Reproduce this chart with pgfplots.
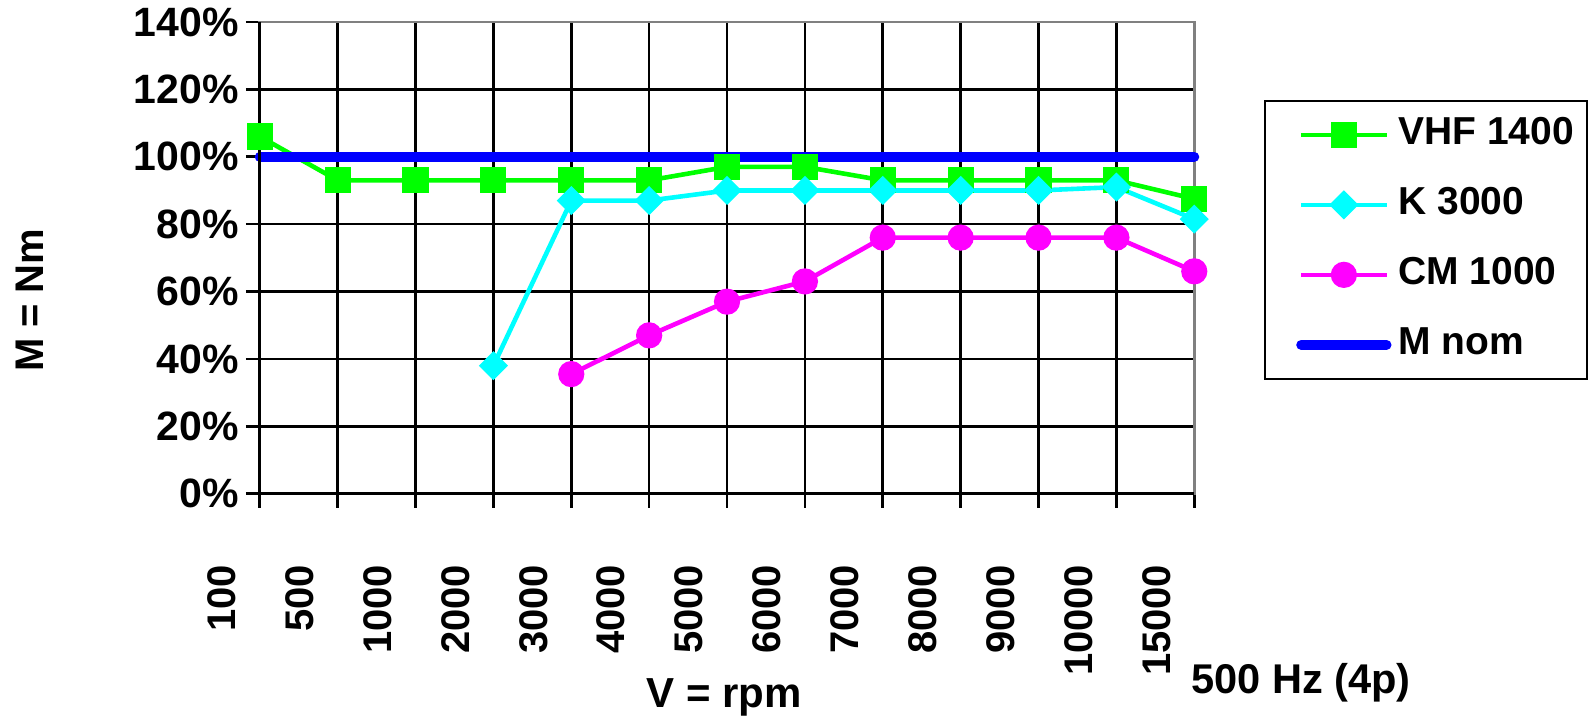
\documentclass[border=0pt]{standalone}
\usepackage{pgfplots}
\pgfplotsset{compat=1.18}
\usepackage{fontspec}
\setmainfont{Liberation Sans}

\definecolor{vhf}{RGB}{0,255,0}
\definecolor{kcol}{RGB}{0,255,255}
\definecolor{cmcol}{RGB}{255,0,255}
\definecolor{mnom}{RGB}{0,0,255}

\begin{document}
\begin{tikzpicture}
\begin{axis}[
  scale only axis,
  width=467.5pt, height=236pt,
  xmin=0, xmax=12, ymin=0, ymax=140,
  xtick={0,...,12},
  xticklabels={100,500,1000,2000,3000,4000,5000,6000,7000,8000,9000,10000,15000},
  ytick={0,20,...,140},
  yticklabel={\pgfmathprintnumber{\tick}\%},
  /pgf/number format/assume math mode=true,
  xtick pos=bottom, ytick pos=left,
  grid=major,
  grid style={black, line width=1.3pt},
  axis line style={gray, line width=1.3pt},
  tick style={black, line width=1.3pt},
  tick align=outside,
  major tick length=7pt,
  font=\fontsize{20}{24}\selectfont\bfseries,
  yticklabel style={font=\fontsize{20.5}{24}\selectfont\bfseries},
  xticklabel style={xshift=-19pt, yshift=-25pt, rotate=90, anchor=east},
  xlabel={V = rpm},
  ylabel={M = Nm},
  every axis x label/.style={at={(axis description cs:0.497,0)}, anchor=center, yshift=-102pt,
    font=\fontsize{21}{24}\selectfont\bfseries},
  every axis y label/.style={at={(axis description cs:0,0.41)}, anchor=center, xshift=-115pt, rotate=90},
  legend style={at={(axis description cs:1,1)}, anchor=north west, xshift=35pt, yshift=-39pt,
    draw=black, line width=1pt, inner xsep=4.5pt, inner ysep=8pt,
    nodes={inner ysep=0pt, text height=14pt, text depth=4pt}, row sep=17pt,
    font=\fontsize{19.5}{23}\selectfont\bfseries},
  legend cell align=left,
  legend image code/.code={\path (-11pt,0pt) (1.5cm+1.5pt,0pt);
    \draw[mark repeat=2,mark phase=2] plot coordinates {(0cm,0cm) (0.75cm,0cm) (1.5cm,0cm)};},
  clip=false,
]
\addplot[vhf, line width=2.3pt, mark=square*, mark size=5.4pt, mark options={solid}] coordinates {
  (0,106) (1,93) (2,93) (3,93) (4,93) (5,93) (6,97) (7,97) (8,93) (9,93) (10,93) (11,93) (12,87.5)
};
\addlegendentry{VHF 1400}
\addplot[kcol, line width=2.3pt, mark=square*, mark size=4pt, mark options={solid, rotate=45}] coordinates {
  (3,38) (4,87) (5,87) (6,90) (7,90) (8,90) (9,90) (10,90) (11,91) (12,81.5)
};
\addlegendentry{K 3000}
\addplot[cmcol, line width=2.3pt, mark=*, mark size=5.4pt, mark options={solid}] coordinates {
  (4,35.5) (5,47) (6,57) (7,63) (8,76) (9,76) (10,76) (11,76) (12,66)
};
\addlegendentry{CM 1000}
\addplot[mnom, line width=5pt, line cap=round] coordinates {
  (0,100) (12,100)
};
\addlegendentry{M nom}
\draw[black, line width=1.3pt] (rel axis cs:0,1) -- (rel axis cs:0,0) -- (rel axis cs:1,0);
\node[anchor=west, font=\fontsize{20.8}{24}\selectfont\bfseries, xshift=-5pt] at (axis cs:12,-56) {500 Hz (4p)};
\path (rel axis cs:-0.278,-0.4725) rectangle (rel axis cs:1.4203,1.0466);
\end{axis}
\end{tikzpicture}
\end{document}
